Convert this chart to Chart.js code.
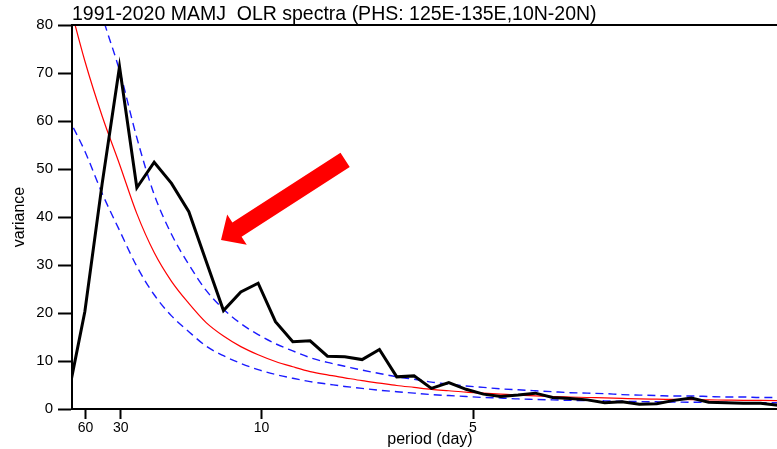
<!DOCTYPE html>
<html>
<head>
<meta charset="utf-8">
<script src="https://cdn.jsdelivr.net/npm/chart.js@4.4.1/dist/chart.umd.min.js"></script>
<style>
html, body { margin: 0; padding: 0; background: #fff; overflow: hidden; }
</style>
</head>
<body>
<canvas id="specChart" width="792" height="449"></canvas>
<script>
// MAMJ season length -> harmonic k has frequency k / seasonDays
const seasonDays = 122;
const harmonics = [1, 2, 3, 4, 5, 6, 7, 8, 9, 10, 11, 12, 13, 14, 15, 16, 17, 18, 19, 20, 21,
                   22, 23, 24, 25, 26, 27, 28, 29, 30, 31, 32, 33, 34, 35, 36, 37, 38, 39, 40, 41, 42];
const olrVariance = [2.2, 20.3, 47, 71.3, 46.1, 51.4, 47, 41.1, 30.8, 20.5, 24.4, 26.2, 18.2, 14.0,
                     14.2, 11.0, 10.9, 10.3, 12.4, 6.7, 6.9, 4.3, 5.5, 4.1, 3.1, 2.6, 2.9, 3.3,
                     2.4, 2.2, 1.9, 1.3, 1.5, 1.0, 1.1, 1.8, 2.3, 1.4, 1.3, 1.2, 1.2, 0.8];
const redNoise = [86, 72.5, 61, 51, 40.7, 32.6, 26.6, 22, 18, 15.2, 13, 11.3, 9.9, 8.8,
                  7.8, 7.1, 6.5, 5.9, 5.4, 4.9, 4.5, 4.1, 3.8, 3.5, 3.3, 3.1, 2.9, 2.75,
                  2.6, 2.5, 2.4, 2.3, 2.2, 2.1, 2.05, 2.0, 1.95, 1.9, 1.85, 1.8, 1.78, 1.75];
const upperBound = [112, 96, 82, 70.5, 56.5, 44.7, 36.4, 30.1, 24.7, 20.8, 17.8, 15.5, 13.6, 12.1,
                    10.7, 9.7, 8.9, 8.1, 7.4, 6.7, 6.2, 5.6, 5.2, 4.8, 4.5, 4.2, 4.0, 3.8,
                    3.6, 3.4, 3.3, 3.2, 3.0, 2.9, 2.8, 2.7, 2.7, 2.6, 2.5, 2.5, 2.4, 2.4];
const lowerBound = [61, 53.7, 44.9, 37.2, 29.7, 23.8, 19.4, 16.1, 13.1, 11.1, 9.5, 8.2, 7.2, 6.4,
                    5.7, 5.2, 4.7, 4.3, 3.9, 3.6, 3.3, 3.0, 2.8, 2.6, 2.4, 2.3, 2.1, 2.0,
                    1.9, 1.8, 1.75, 1.7, 1.6, 1.55, 1.5, 1.45, 1.4, 1.4, 1.35, 1.3, 1.3, 1.3];
const periodTicks = [60, 30, 10, 5];

const FONT = "'Liberation Sans', Arial, Helvetica, sans-serif";
Chart.defaults.font.family = FONT;
Chart.defaults.color = '#000';

function toPoints(vals) {
    return vals.map((v, i) => ({ x: harmonics[i] / seasonDays, y: v }));
}

// thick frame round the plot like the NCL original
const framePlugin = {
    id: 'frame',
    afterDraw(chart) {
        const { ctx, chartArea: a } = chart;
        ctx.save();
        ctx.strokeStyle = '#000';
        ctx.lineWidth = 2;
        ctx.strokeRect(a.left, a.top, a.right - a.left, a.bottom - a.top);
        ctx.restore();
    }
};

// the big red pointer arrow, anchored in data coordinates
const arrowFrom = [0.1395, 51.9];
const arrowTo = [0.0808, 35.2];
const arrowPlugin = {
    id: 'arrow',
    afterDatasetsDraw(chart) {
        const { ctx, scales } = chart;
        const tx = scales.x.getPixelForValue(arrowFrom[0]), ty = scales.y.getPixelForValue(arrowFrom[1]);
        const hx = scales.x.getPixelForValue(arrowTo[0]), hy = scales.y.getPixelForValue(arrowTo[1]);
        const len = Math.hypot(hx - tx, hy - ty);
        const ux = (hx - tx) / len, uy = (hy - ty) / len;
        const nx = -uy, ny = ux;
        const shaft = 8.5, head = 18, headLen = 19;
        const bx = hx - ux * headLen, by = hy - uy * headLen;
        ctx.save();
        ctx.fillStyle = '#ff0000';
        ctx.beginPath();
        ctx.moveTo(tx + nx * shaft, ty + ny * shaft);
        ctx.lineTo(bx + nx * shaft, by + ny * shaft);
        ctx.lineTo(bx + nx * head, by + ny * head);
        ctx.lineTo(hx, hy);
        ctx.lineTo(bx - nx * head, by - ny * head);
        ctx.lineTo(bx - nx * shaft, by - ny * shaft);
        ctx.lineTo(tx - nx * shaft, ty - ny * shaft);
        ctx.closePath();
        ctx.fill();
        ctx.restore();
    }
};

const ctx = document.getElementById('specChart').getContext('2d');
const specChart = new Chart(ctx, {
    type: 'line',
    data: {
        datasets: [
            {
                label: 'OLR spectrum',
                data: toPoints(olrVariance),
                borderColor: '#000',
                borderWidth: 3,
                pointRadius: 0,
                tension: 0,
                order: 0
            },
            {
                label: 'red noise',
                data: toPoints(redNoise),
                borderColor: '#ff0000',
                borderWidth: 1.2,
                pointRadius: 0,
                cubicInterpolationMode: 'monotone',
                clip: 0,
                order: 1
            },
            {
                label: 'upper',
                data: toPoints(upperBound),
                borderColor: '#1a1aff',
                borderWidth: 1.4,
                borderDash: [8, 5],
                pointRadius: 0,
                cubicInterpolationMode: 'monotone',
                clip: 0,
                order: 2
            },
            {
                label: 'lower',
                data: toPoints(lowerBound),
                borderColor: '#1a1aff',
                borderWidth: 1.4,
                borderDash: [8, 5],
                pointRadius: 0,
                cubicInterpolationMode: 'monotone',
                clip: 0,
                order: 3
            }
        ]
    },
    options: {
        responsive: false,
        animation: false,
        layout: { padding: { right: 4 } },
        plugins: {
            legend: { display: false },
            tooltip: { enabled: false },
            title: {
                display: true,
                text: '1991-2020 MAMJ  OLR spectra (PHS: 125E-135E,10N-20N)',
                align: 'start',
                fullSize: false,
                color: '#000',
                font: { size: 19.5, weight: 'normal', lineHeight: 21 / 19.5 },
                padding: { top: 4, bottom: 0 }
            }
        },
        scales: {
            x: {
                type: 'linear',
                min: 0.01031,
                max: 0.3490,
                afterBuildTicks: s => { s.ticks = periodTicks.map(p => ({ value: 1 / p })); },
                afterFit: s => { s.height = 40; },
                ticks: {
                    callback: v => String(Math.round(1 / v)),
                    font: { size: 14 },
                    padding: 1,
                    maxRotation: 0,
                    autoSkip: false
                },
                grid: { drawOnChartArea: false, tickLength: 10, tickWidth: 2, tickColor: '#000' },
                border: { color: '#000', width: 2 },
                title: {
                    display: true,
                    text: 'period (day)',
                    font: { size: 16 },
                    padding: { top: 0, bottom: 0 }
                }
            },
            y: {
                min: 0,
                max: 80,
                afterFit: s => { s.width = 72; },
                ticks: { stepSize: 10, font: { size: 15 }, padding: 5 },
                grid: { drawOnChartArea: false, tickLength: 14, tickWidth: 2, tickColor: '#000' },
                border: { color: '#000', width: 2 },
                title: {
                    display: true,
                    text: 'variance',
                    font: { size: 16 },
                    padding: { top: 10, bottom: 0 }
                }
            }
        }
    },
    plugins: [framePlugin, arrowPlugin]
});
</script>
</body>
</html>
